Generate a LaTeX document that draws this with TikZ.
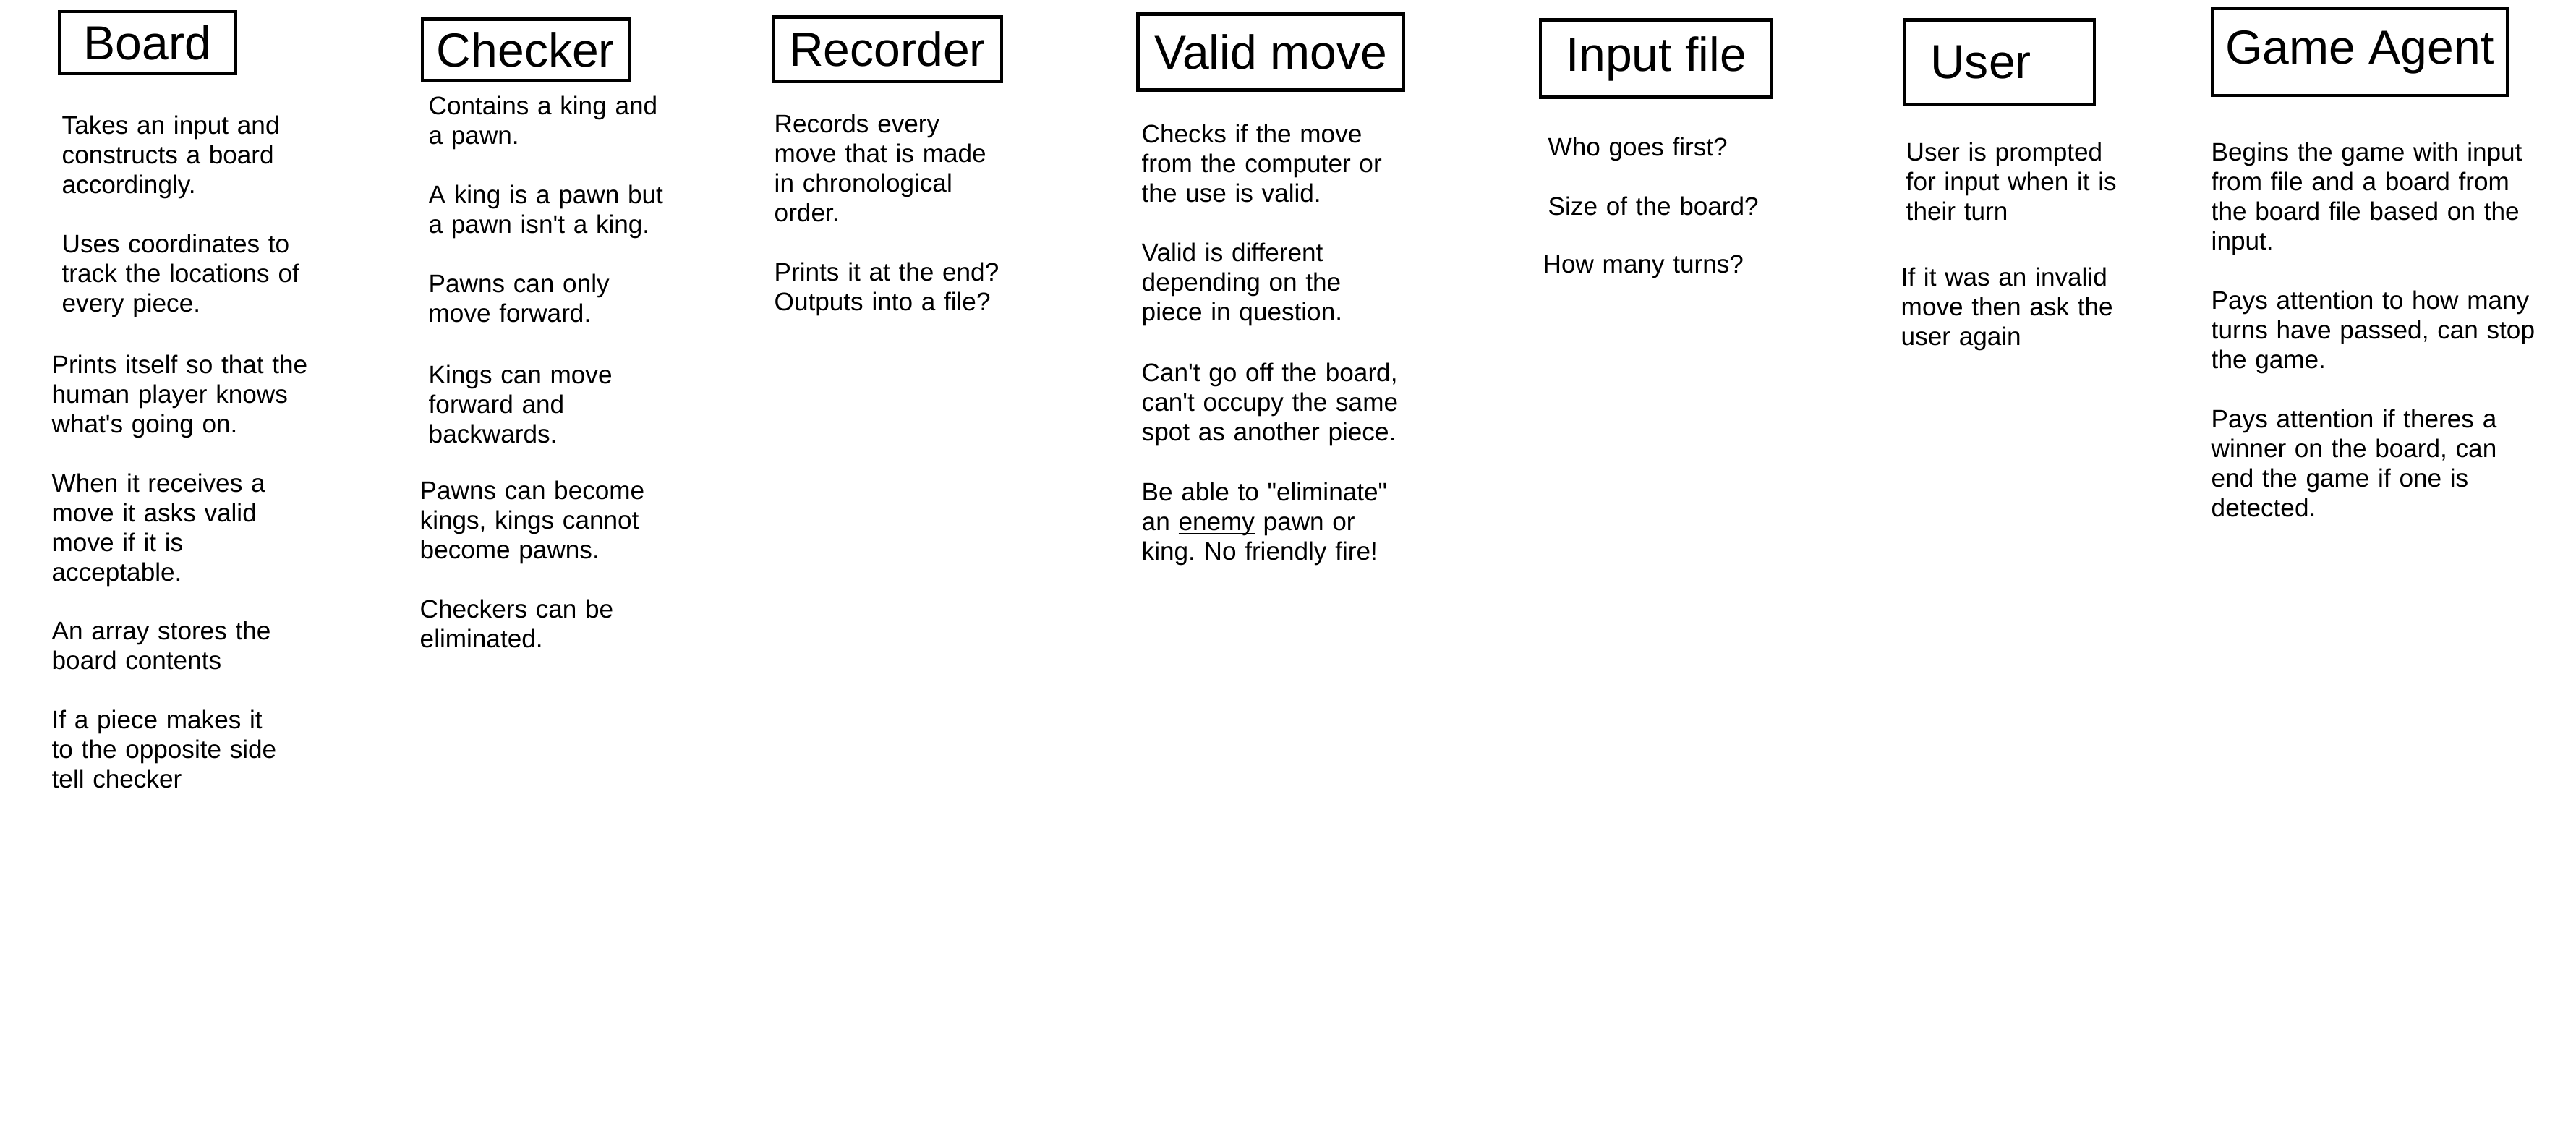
\documentclass[tikz,border=0pt]{standalone}
\usepackage{fontspec}
\setmainfont{Liberation Sans}
\usepackage{tikz}
\frenchspacing

\newcommand{\ap}{\textquotesingle}
\newcommand{\qq}{\textquotedbl}

\begin{document}
\begin{tikzpicture}[
        heading/.style={draw,line width=1.4pt,inner sep=0pt,font=\fontsize{18.8}{22}\selectfont},
        note/.style={anchor=base west,align=left,text width=4.9cm,inner sep=0pt,font=\fontsize{10}{11.7}\selectfont}]
        \useasboundingbox (0,0) rectangle (35.62,-15.67);
        % headings
        \node[heading,minimum width=2.44cm,minimum height=0.86cm] (board) at (2.04,-0.59) {Board};
        \node[heading,minimum width=2.86cm,minimum height=0.85cm] (checker) at (7.27,-0.69) {Checker};
        \node[heading,minimum width=3.16cm,minimum height=0.89cm] (recorder) at (12.27,-0.68) {Recorder};
        \node[heading,minimum width=3.67cm,minimum height=1.05cm] (valid) at (17.57,-0.72) {Valid move};
        \node[heading,minimum width=3.20cm,minimum height=1.07cm] (input) at (22.90,-0.81) {Input file};
        \node[heading,minimum width=2.62cm,minimum height=1.17cm] (user) at (27.65,-0.86) {User\hspace*{0.52cm}};
        \node[heading,minimum width=4.08cm,minimum height=1.20cm] (agent) at (32.63,-0.72) {Game Agent};
        % board
        \node[note] (board1) at (0.85,-1.85) {Takes an input and\\constructs a board\\accordingly.};
        \node[note] (board2) at (0.85,-3.49) {Uses coordinates to\\track the locations of\\every piece.};
        \node[note] (board3) at (0.71,-5.16) {Prints itself so that the\\human player knows\\what\ap s going on.};
        \node[note] (board4) at (0.71,-6.80) {When it receives a\\move it asks valid\\move if it is\\acceptable.};
        \node[note] (board5) at (0.71,-8.84) {An array stores the\\board contents};
        \node[note] (board6) at (0.71,-10.07) {If a piece makes it\\to the opposite side\\tell checker};
        % checker
        \node[note] (checker1) at (5.92,-1.58) {Contains a king and\\a pawn.};
        \node[note] (checker2) at (5.92,-2.81) {A king is a pawn but\\a pawn isn\ap t a king.};
        \node[note] (checker3) at (5.92,-4.04) {Pawns can only\\move forward.};
        \node[note] (checker4) at (5.92,-5.30) {Kings can move\\forward and\\backwards.};
        \node[note] (checker5) at (5.80,-6.90) {Pawns can become\\kings, kings cannot\\become pawns.};
        \node[note] (checker6) at (5.80,-8.54) {Checkers can be\\eliminated.};
        % recorder
        \node[note] (recorder1) at (10.70,-1.83) {Records every\\move that is made\\in chronological\\order.};
        \node[note] (recorder2) at (10.70,-3.88) {Prints it at the end?\\Outputs into a file?};
        % valid move
        \node[note] (valid1) at (15.78,-1.97) {Checks if the move\\from the computer or\\the use is valid.};
        \node[note] (valid2) at (15.78,-3.61) {Valid is different\\depending on the\\piece in question.};
        \node[note] (valid3) at (15.78,-5.27) {Can\ap t go off the board,\\can\ap t occupy the same\\spot as another piece.};
        \node[note] (valid4) at (15.78,-6.92) {Be able to \qq eliminate\qq\\an \underline{\smash{enemy}} pawn or\\king. No friendly fire!};
        % input file
        \node[note] (input1) at (21.40,-2.15) {Who goes first?};
        \node[note] (input2) at (21.40,-2.97) {Size of the board?};
        \node[note] (input3) at (21.33,-3.77) {How many turns?};
        % user
        \node[note] (user1) at (26.35,-2.22) {User is prompted\\for input when it is\\their turn};
        \node[note] (user2) at (26.28,-3.95) {If it was an invalid\\move then ask the\\user again};
        % game agent
        \node[note] (agent1) at (30.57,-2.22) {Begins the game with input\\from file and a board from\\the board file based on the\\input.};
        \node[note] (agent2) at (30.57,-4.27) {Pays attention to how many\\turns have passed, can stop\\the game.};
        \node[note] (agent3) at (30.57,-5.91) {Pays attention if theres a\\winner on the board, can\\end the game if one is\\detected.};
    \end{tikzpicture}
\end{document}
